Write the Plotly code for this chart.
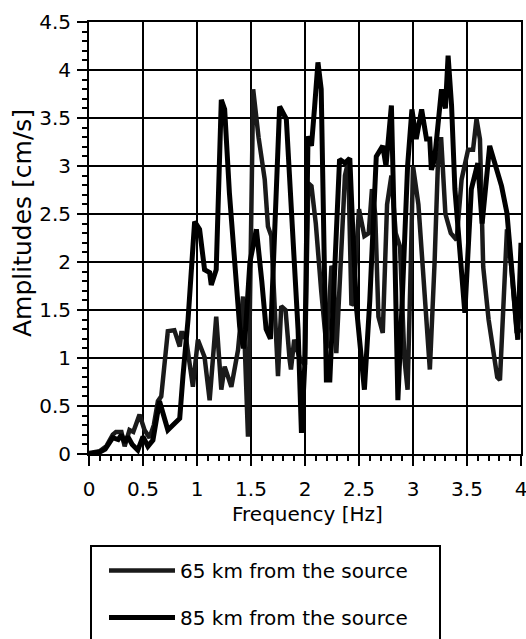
import plotly.graph_objects as go

# ---- data ----
freq_65 = [0, 0.10, 0.16, 0.22, 0.25, 0.30, 0.33, 0.375, 0.41, 0.468, 0.514, 0.56, 0.60, 0.638, 0.669,
           0.73, 0.79, 0.84, 0.855, 0.87, 0.90, 0.962, 1.008, 1.05, 1.07, 1.117, 1.178, 1.225, 1.256,
           1.318, 1.38, 1.426, 1.472, 1.52, 1.57, 1.627, 1.657, 1.688, 1.72, 1.75, 1.78, 1.82, 1.858,
           1.87, 1.90, 1.95, 2.0, 2.03, 2.06, 2.10, 2.15, 2.20, 2.245, 2.265, 2.29, 2.34, 2.37, 2.40,
           2.43, 2.445, 2.50, 2.55, 2.59, 2.62, 2.65, 2.68, 2.72, 2.76, 2.80, 2.84, 2.88, 2.92, 2.95,
           2.98, 3.00, 3.05, 3.10, 3.156, 3.20, 3.23, 3.26, 3.30, 3.35, 3.404, 3.45, 3.51, 3.556,
           3.588, 3.62, 3.65, 3.70, 3.78, 3.805, 3.84, 3.87, 3.91, 3.96, 4.0]
amp_65 = [0.01, 0.03, 0.08, 0.20, 0.23, 0.23, 0.08, 0.25, 0.23, 0.41, 0.25, 0.17, 0.30, 0.55, 0.60,
          1.28, 1.29, 1.12, 1.26, 1.26, 1.19, 0.70, 1.19, 1.05, 1.01, 0.56, 1.43, 0.67, 0.91,
          0.70, 1.085, 1.64, 0.18, 3.80, 3.30, 2.86, 2.37, 2.27, 1.50, 0.81, 1.54, 1.50, 0.98,
          0.88, 1.19, 1.00, 0.93, 2.82, 2.79, 2.40, 1.70, 1.10, 1.96, 1.90, 1.05, 2.37, 2.90, 3.05,
          1.55, 1.57, 2.55, 2.27, 2.30, 2.76, 2.50, 1.43, 1.26, 2.60, 2.90, 2.30, 2.16, 1.00, 0.67,
          2.00, 3.00, 2.60, 1.80, 0.88, 2.00, 3.00, 3.30, 2.50, 2.30, 2.23, 2.86, 3.17, 3.17,
          3.49, 3.28, 1.95, 1.40, 0.80, 0.77, 1.50, 2.34, 1.95, 1.26, 1.30]

freq_85 = [0, 0.10, 0.15, 0.22, 0.27, 0.30, 0.33, 0.36, 0.40, 0.452, 0.50, 0.545, 0.592, 0.623, 0.653,
           0.73, 0.81, 0.84, 0.87, 0.917, 0.978, 1.024, 1.07, 1.117, 1.132, 1.178, 1.225, 1.256, 1.30,
           1.35, 1.395, 1.43, 1.45, 1.49, 1.55, 1.60, 1.64, 1.68, 1.72, 1.765, 1.827, 1.90, 1.936,
           1.967, 1.997, 2.028, 2.06, 2.09, 2.12, 2.15, 2.198, 2.23, 2.32, 2.37, 2.415, 2.44, 2.476,
           2.55, 2.60, 2.66, 2.72, 2.75, 2.80, 2.83, 2.86, 2.90, 2.95, 2.99, 3.03, 3.08, 3.125, 3.155,
           3.17, 3.20, 3.264, 3.30, 3.325, 3.357, 3.388, 3.48, 3.54, 3.60, 3.64, 3.71, 3.76, 3.82,
           3.87, 3.94, 3.97, 4.0]
amp_85 = [0.0, 0.02, 0.05, 0.17, 0.15, 0.20, 0.12, 0.18, 0.10, 0.04, 0.18, 0.08, 0.145, 0.32, 0.55,
          0.25, 0.34, 0.37, 0.81, 1.40, 2.42, 2.34, 1.92, 1.89, 1.76, 1.92, 3.69, 3.59, 2.72,
          2.02, 1.33, 1.10, 1.30, 2.00, 2.34, 1.80, 1.30, 1.20, 2.40, 3.62, 3.49, 2.00, 1.29,
          0.22, 0.91, 3.31, 3.21, 3.63, 4.08, 3.80, 0.77, 0.77, 3.07, 3.03, 3.08, 2.40, 1.53,
          0.67, 1.60, 3.10, 3.21, 3.00, 3.63, 2.20, 0.56, 1.60, 3.00, 3.59, 3.28, 3.59, 3.28, 3.28,
          2.96, 3.07, 3.80, 3.60, 4.15, 3.63, 2.76, 1.47, 2.76, 3.03, 2.40, 3.21, 3.03, 2.79,
          2.51, 1.60, 1.19, 2.20]

x_ticks = [0, 0.5, 1, 1.5, 2, 2.5, 3, 3.5, 4]
x_tick_text = ["0", "0.5", "1", "1.5", "2", "2.5", "3", "3.5", "4"]
y_ticks = [0, 0.5, 1, 1.5, 2, 2.5, 3, 3.5, 4, 4.5]
y_tick_text = ["0", "0.5", "1", "1.5", "2", "2.5", "3", "3.5", "4", "4.5"]

FONT = "DejaVu Sans"
W, H = 526, 639
L, R, T, B = 89, 5, 22, 185
PW, PH = W - L - R, H - T - B

fig = go.Figure()
fig.add_trace(go.Scatter(x=freq_65, y=amp_65, mode="lines", name="65 km from the source",
                         legendgroup="a",
                         line=dict(color="#1a1a1a", width=4.5)))
fig.add_trace(go.Scatter(x=freq_85, y=amp_85, mode="lines", name="85 km from the source",
                         legendgroup="b",
                         line=dict(color="#000000", width=5)))

axis_common = dict(
    showgrid=True, gridcolor="#000000", gridwidth=2,
    showline=True, linecolor="#000000", linewidth=2, mirror=True,
    ticks="outside", tickcolor="#000000", tickwidth=2, ticklen=10,
    tickfont=dict(family=FONT, size=20, color="#000000"),
    zeroline=False, automargin=False, ticklabeloverflow="allow",
    minor=dict(ticks="outside", ticklen=5, tickwidth=1.5, tickcolor="#000000", showgrid=False),
)

fig.update_xaxes(range=[0, 4], tickvals=x_ticks, ticktext=x_tick_text,
                 minor_dtick=0.1, minor_tick0=0, ticklabelstandoff=6, **axis_common)
fig.update_yaxes(range=[0, 4.5], tickvals=y_ticks, ticktext=y_tick_text,
                 minor_dtick=0.1, minor_tick0=0, ticklabelstandoff=2, **axis_common)

fig.add_annotation(text="Frequency [Hz]", xref="paper", yref="paper",
                   x=(307 - L) / PW, y=(454 - 514) / PH, xanchor="center", yanchor="middle",
                   showarrow=False, font=dict(family=FONT, size=20, color="#000000"))
fig.add_annotation(text="Amplitudes [cm/s]", xref="paper", yref="paper",
                   x=(22 - L) / PW, y=(454 - 223) / PH, xanchor="center", yanchor="middle",
                   textangle=-90, showarrow=False,
                   font=dict(family=FONT, size=25, color="#000000"))

# legend frame (runs past the bottom of the page, as in the reference)
fig.add_shape(type="rect", xref="paper", yref="paper",
              x0=(91 - L) / PW, x1=(440 - L) / PW,
              y0=(454 - 660) / PH, y1=(454 - 546) / PH,
              line=dict(color="#000000", width=2), fillcolor="rgba(0,0,0,0)", layer="above")

fig.update_layout(
    width=W, height=H,
    margin=dict(l=L, r=R, t=T, b=B, autoexpand=False),
    paper_bgcolor="white", plot_bgcolor="white",
    font=dict(family=FONT, color="#000000"),
    showlegend=True,
    legend=dict(xref="container", yref="container",
                x=104 / W, y=1 - 551 / H, xanchor="left", yanchor="top",
                font=dict(family=FONT, size=20, color="#000000"),
                bgcolor="rgba(0,0,0,0)", borderwidth=0,
                traceorder="grouped", tracegroupgap=18, itemwidth=66),
)

fig.write_html("out.html")
